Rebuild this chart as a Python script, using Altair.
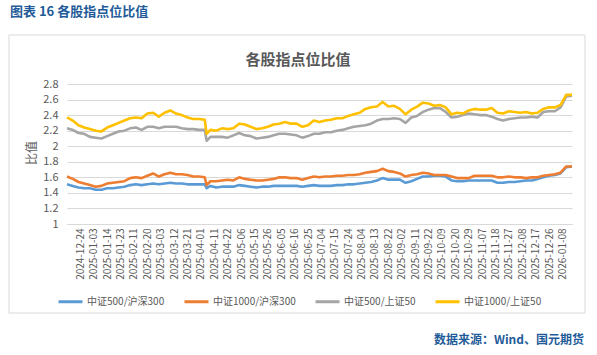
import altair as alt
import pandas as pd

# ---------------- data ----------------
start_day = "2024-12-13"
end_day = "2026-01-15"
market_holidays = [
    "2025-01-01", "2025-01-28", "2025-01-29", "2025-01-30", "2025-01-31",
    "2025-02-03", "2025-02-04", "2025-04-04", "2025-05-01", "2025-05-02",
    "2025-05-05", "2025-06-02", "2025-10-01", "2025-10-02", "2025-10-03",
    "2025-10-06", "2025-10-07", "2025-10-08", "2026-01-01", "2026-01-02",
]

tick_labels = [
    "2024-12-24", "2025-01-03", "2025-01-14", "2025-01-23", "2025-02-11",
    "2025-02-20", "2025-03-03", "2025-03-12", "2025-03-21", "2025-04-01",
    "2025-04-11", "2025-04-22", "2025-05-06", "2025-05-15", "2025-05-26",
    "2025-06-05", "2025-06-16", "2025-06-25", "2025-07-04", "2025-07-15",
    "2025-07-24", "2025-08-04", "2025-08-13", "2025-08-22", "2025-09-02",
    "2025-09-11", "2025-09-22", "2025-10-09", "2025-10-20", "2025-10-29",
    "2025-11-07", "2025-11-18", "2025-11-27", "2025-12-08", "2025-12-17",
    "2025-12-26", "2026-01-08",
]

trading_days = [
    d.strftime("%Y-%m-%d")
    for d in pd.bdate_range(start_day, end_day)
    if d.strftime("%Y-%m-%d") not in market_holidays
]
extra_days = ["2025-04-07"]
sample_days = sorted(set(trading_days[::3] + [trading_days[-1]] + extra_days))

series_names = ["中证500/沪深300", "中证1000/沪深300", "中证500/上证50", "中证1000/上证50"]
series_colors = ["#5B9BD5", "#ED7D31", "#A5A5A5", "#FFC000"]

csi500_hs300 = [
    1.51, 1.49, 1.47, 1.46, 1.46, 1.44, 1.44, 1.46, 1.46, 1.47, 1.48, 1.50, 1.51,
    1.50, 1.51, 1.52, 1.51, 1.52, 1.53, 1.52, 1.52, 1.51, 1.51, 1.51, 1.51,
    1.46,
    1.49, 1.47, 1.48, 1.48, 1.48, 1.50, 1.49, 1.48, 1.47, 1.48, 1.48, 1.49, 1.49,
    1.49, 1.49, 1.49, 1.48, 1.49, 1.50, 1.49, 1.49,
    1.49, 1.50, 1.50, 1.51, 1.51, 1.52, 1.53, 1.54, 1.56, 1.59, 1.57, 1.57, 1.57,
    1.53, 1.55, 1.58, 1.61, 1.61, 1.62, 1.62, 1.61, 1.56, 1.55, 1.55, 1.56, 1.56,
    1.56, 1.56, 1.56, 1.53, 1.53, 1.54, 1.54, 1.55, 1.56, 1.56, 1.58, 1.60, 1.62,
    1.63, 1.65, 1.73, 1.74,
]
csi1000_hs300 = [
    1.61, 1.58, 1.54, 1.52, 1.50, 1.48, 1.49, 1.52, 1.53, 1.54, 1.55, 1.59, 1.60,
    1.59, 1.62, 1.65, 1.61, 1.64, 1.66, 1.64, 1.64, 1.63, 1.61, 1.61, 1.60,
    1.50,
    1.55, 1.55, 1.56, 1.57, 1.56, 1.60, 1.58, 1.57, 1.56, 1.56, 1.57, 1.58, 1.60,
    1.60, 1.59, 1.59, 1.57, 1.59, 1.61, 1.60, 1.61,
    1.61, 1.62, 1.62, 1.63, 1.63, 1.64, 1.66, 1.67, 1.68, 1.71, 1.68, 1.67, 1.65,
    1.61, 1.63, 1.64, 1.66, 1.65, 1.63, 1.63, 1.63, 1.61, 1.59, 1.59, 1.59, 1.62,
    1.62, 1.62, 1.62, 1.60, 1.60, 1.61, 1.60, 1.60, 1.59, 1.60, 1.60, 1.62, 1.63,
    1.64, 1.66, 1.74, 1.74,
]
csi500_sz50 = [
    2.23, 2.21, 2.17, 2.16, 2.12, 2.11, 2.10, 2.13, 2.16, 2.19, 2.20, 2.23, 2.24,
    2.21, 2.25, 2.25, 2.23, 2.25, 2.25, 2.25, 2.23, 2.22, 2.22, 2.21, 2.21,
    2.07,
    2.12, 2.12, 2.12, 2.11, 2.14, 2.17, 2.14, 2.13, 2.10, 2.11, 2.12, 2.14, 2.16,
    2.16, 2.15, 2.14, 2.11, 2.13, 2.16, 2.16, 2.18,
    2.18, 2.20, 2.21, 2.23, 2.25, 2.26, 2.27, 2.29, 2.33, 2.35, 2.35, 2.36, 2.35,
    2.30, 2.37, 2.39, 2.44, 2.47, 2.49, 2.49, 2.44, 2.37, 2.38, 2.40, 2.42, 2.41,
    2.40, 2.40, 2.38, 2.35, 2.33, 2.35, 2.36, 2.37, 2.37, 2.38, 2.37, 2.44, 2.45,
    2.45, 2.50, 2.64, 2.65,
]
csi1000_sz50 = [
    2.37, 2.33, 2.27, 2.24, 2.22, 2.20, 2.19, 2.24, 2.27, 2.30, 2.33, 2.36, 2.37,
    2.36, 2.42, 2.43, 2.38, 2.43, 2.46, 2.42, 2.40, 2.37, 2.35, 2.35, 2.34,
    2.16,
    2.21, 2.20, 2.23, 2.22, 2.23, 2.29, 2.28, 2.25, 2.22, 2.23, 2.25, 2.28, 2.29,
    2.31, 2.29, 2.29, 2.25, 2.27, 2.33, 2.31, 2.33,
    2.34, 2.36, 2.36, 2.39, 2.41, 2.43, 2.48, 2.50, 2.51, 2.57, 2.51, 2.52, 2.48,
    2.41, 2.47, 2.51, 2.56, 2.55, 2.52, 2.53, 2.50, 2.41, 2.43, 2.42, 2.46, 2.48,
    2.47, 2.47, 2.49, 2.43, 2.42, 2.45, 2.44, 2.43, 2.44, 2.42, 2.43, 2.48, 2.50,
    2.50, 2.53, 2.66, 2.66,
]

y_ticks = [1, 1.2, 1.4, 1.6, 1.8, 2, 2.2, 2.4, 2.6, 2.8]

header_text = "图表 16 各股指点位比值"
chart_title = "各股指点位比值"
y_title = "比值"
source_text = "数据来源：Wind、国元期货"

# ---------------- table ----------------
rows = []
for name, vals in zip(series_names,
                      [csi500_hs300, csi1000_hs300, csi500_sz50, csi1000_sz50]):
    for d, v in zip(sample_days, vals):
        rows.append({"date": d, "series": name, "value": v})
df = pd.DataFrame(rows)

FONT = "Noto Sans CJK SC"
GRID = "#D9D9D9"
TXT = "#595959"

lines = alt.Chart(df).mark_line(strokeWidth=2.6, strokeJoin="round").encode(
    x=alt.X(
        "date:O",
        scale=alt.Scale(type="point", domain=trading_days, padding=0),
        axis=alt.Axis(
            values=tick_labels, labelAngle=-90, title=None, ticks=False,
            domain=True, domainColor=GRID, domainWidth=1, grid=False,
            labelFontSize=10, labelColor=TXT, labelFont=FONT, labelPadding=4,
            labelOverlap=False,
        ),
    ),
    y=alt.Y(
        "value:Q",
        scale=alt.Scale(domain=[1, 2.8], nice=False, zero=False),
        axis=alt.Axis(
            values=y_ticks, format=".1~f", title=None, ticks=False, domain=False,
            grid=True, gridColor=GRID, gridWidth=1, labelFontSize=11,
            labelColor=TXT, labelFont=FONT, labelPadding=9,
        ),
    ),
    color=alt.Color(
        "series:N",
        sort=series_names,
        scale=alt.Scale(domain=series_names, range=series_colors),
        legend=alt.Legend(
            orient="none", legendX=-10, legendY=204, direction="horizontal",
            title=None, symbolType="stroke", symbolSize=576,
            symbolStrokeWidth=3, labelFontSize=10, labelColor=TXT,
            labelFont=FONT, columnPadding=13, labelOffset=3,
        ),
    ),
    order=alt.Order("date:O"),
)

one = pd.DataFrame({"k": [0]})

frame = alt.Chart(one).mark_rect(
    fill="#ffffff", fillOpacity=0, stroke=GRID, strokeWidth=1
).encode(
    x=alt.value(9 - 67), x2=alt.value(585 - 67),
    y=alt.value(35 - 84), y2=alt.value(313 - 84),
)

header = alt.Chart(pd.DataFrame({"t": [header_text]})).mark_text(
    align="left", baseline="middle", font=FONT, fontSize=13, fontWeight="bold",
    color="#1F5C99",
).encode(text="t:N", x=alt.value(10 - 67), y=alt.value(12 - 84))

title = alt.Chart(pd.DataFrame({"t": [chart_title]})).mark_text(
    align="center", baseline="middle", font=FONT, fontSize=15, fontWeight="bold",
    color=TXT,
).encode(text="t:N", x=alt.value(298 - 67), y=alt.value(60 - 84))

ytitle = alt.Chart(pd.DataFrame({"t": [y_title]})).mark_text(
    align="center", baseline="middle", font=FONT, fontSize=12, angle=270,
    color=TXT,
).encode(text="t:N", x=alt.value(32 - 67), y=alt.value(153 - 84))

source = alt.Chart(pd.DataFrame({"t": [source_text]})).mark_text(
    align="right", baseline="middle", font=FONT, fontSize=12,
    fontWeight="bold", color="#1F5C99",
).encode(text="t:N", x=alt.value(584 - 67), y=alt.value(340 - 84))

chart = alt.layer(frame, lines, header, title, ytitle, source).properties(
    width=505, height=140, autosize="none",
    padding={"left": 67, "top": 84, "right": 25, "bottom": 131},
    background="#ffffff",
).configure_view(stroke=None)

chart.save("out.html", embed_options={"renderer": "svg", "actions": False})
